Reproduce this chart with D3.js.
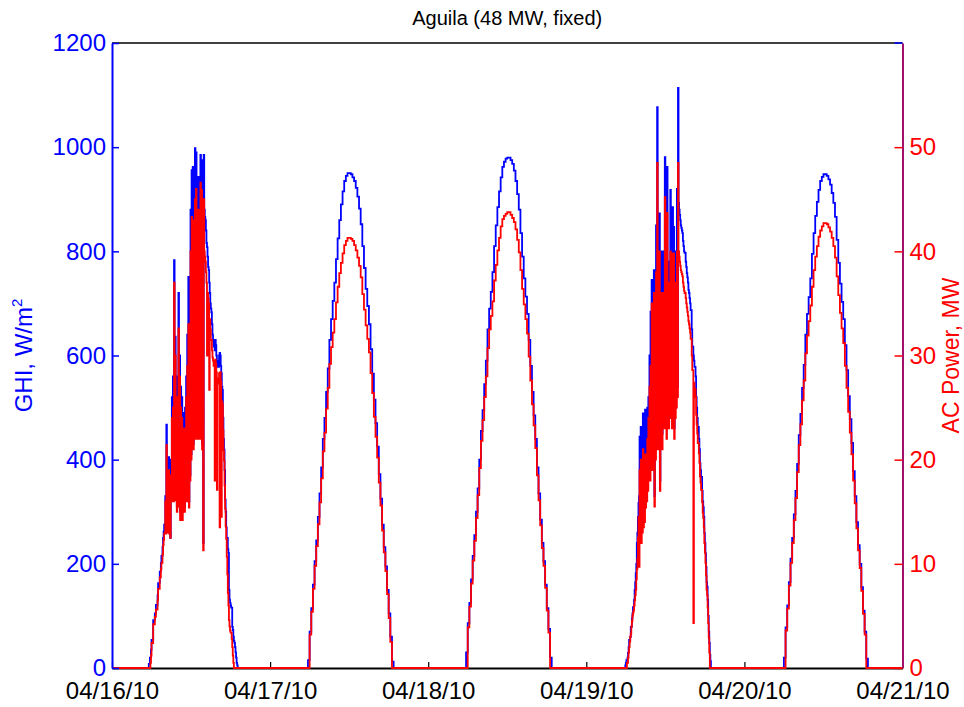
<!DOCTYPE html>
<html>
<head>
<meta charset="utf-8">
<script src="https://cdn.jsdelivr.net/npm/d3@7"></script>
<style>
  body { margin: 0; background: #fff; }
  svg { display: block; }
  text { font-family: "Liberation Sans", Arial, Helvetica, sans-serif; }
</style>
</head>
<body>
<svg id="chart" width="964" height="707"></svg>
<script>
// ---- tick labels ----
const dateTicks = ["04/16/10", "04/17/10", "04/18/10", "04/19/10", "04/20/10", "04/21/10"];
const ghiTicks = [0, 200, 400, 600, 800, 1000, 1200];
const powerTicks = [0, 10, 20, 30, 40, 50];

// ---- 04/16: 5-minute samples from 05:30 ----
const ghi16 = [
  0, 8, 8, 20, 20, 35,
  54, 54, 54, 92, 92, 92, 105, 105, 121, 121, 121, 140,
  163, 163, 163, 185, 185, 202, 215, 215, 232, 250, 262, 275,
  265, 330, 260, 467, 265, 340, 280, 405, 260, 380, 250, 400,
  330, 520, 350, 560, 330, 783, 330, 636, 350, 520, 310, 560,
  330, 720, 320, 600, 300, 540, 310, 520, 300, 470, 310, 490,
  310, 500, 330, 560, 350, 640, 330, 751, 320, 640, 370, 880,
  410, 956, 450, 962, 430, 880, 490, 998, 450, 990, 470, 940,
  450, 943, 510, 900, 450, 985, 490, 975, 430, 930, 240, 985,
  880, 866, 860, 840, 816, 808, 790, 770, 764, 740, 720, 700,
  690, 683, 660, 640, 630, 617, 620, 610, 630, 620, 600, 578,
  590, 580, 578, 600, 605, 600, 580, 566, 540, 534, 480, 440,
  419, 380, 323, 300, 270, 250, 250, 228, 221, 150, 131, 125,
  120, 116, 116, 79, 73, 60, 52, 48, 40, 30, 20, 10,
  5, 0, 0, 0
];
const ac16 = [
  0, 0, 0, 0, 0.5, 1.2,
  2.4, 2.4, 2.4, 4.2, 4.2, 4.2, 4.9, 4.9, 5.6, 5.6, 5.6, 6.5,
  7.6, 7.6, 7.6, 8.7, 8.7, 9.5, 10.1, 10.1, 10.9, 11.8, 12.3, 12.9,
  13.0, 16.0, 12.9, 21.4, 13.0, 16.0, 13.5, 19.0, 12.9, 18.0, 12.5, 18.5,
  16.0, 24.0, 17.0, 25.0, 16.0, 37.0, 16.1, 30.0, 17.0, 24.0, 15.0, 26.0,
  16.0, 32.6, 15.5, 28.0, 14.2, 25.0, 15.0, 24.0, 14.2, 21.5, 15.0, 23.0,
  15.0, 23.0, 16.0, 26.0, 17.0, 29.0, 16.0, 33.0, 15.4, 30.0, 18.0, 40.0,
  20.0, 43.3, 22.0, 43.0, 21.0, 40.0, 24.0, 45.0, 22.0, 46.0, 23.0, 43.0,
  22.0, 44.0, 25.0, 41.0, 22.0, 46.6, 24.0, 45.9, 21.0, 42.0, 11.3, 45.0,
  40.0, 39.5, 39.0, 38.0, 37.0, 30.0, 36.0, 35.5, 35.0, 26.7, 33.5, 32.5,
  31.5, 31.5, 30.5, 29.8, 29.5, 29.0, 29.2, 18.0, 29.6, 29.2, 28.4, 17.1,
  27.8, 27.4, 27.3, 28.3, 13.5, 28.4, 27.5, 14.5, 25.6, 25.3, 22.8, 20.9,
  19.9, 17.5, 15.3, 13.6, 12.4, 10.7, 9.0, 7.2, 6.0, 4.6, 4.0, 3.6,
  3.4, 3.4, 2.8, 2.0, 1.2, 0.5, 0, 0, 0, 0, 0, 0,
  0, 0, 0, 0
];

// ---- 04/17: 15-minute samples from 05:30 ----
const ghi17 = [
  0, 15, 70, 115, 160, 205, 245, 290, 335, 385,
  440, 480, 530, 575, 630, 670, 705, 740, 785, 825,
  860, 890, 915, 935, 945, 950, 950, 948, 942, 935,
  922, 905, 882, 852, 810, 768, 728, 695, 660, 612,
  565, 515, 470, 425, 372, 325, 275, 232, 195, 150,
  105, 60, 12, 0
];
const ac17 = [
  0, 0, 3.2, 5.4, 7.6, 9.8, 11.7, 13.8, 15.9, 18.2,
  20.8, 22.6, 24.9, 26.9, 29.2, 30.8, 32.2, 33.5, 35.1, 36.6,
  37.9, 38.9, 39.8, 40.6, 41.0, 41.3, 41.3, 41.2, 41.0, 40.6,
  40.1, 39.4, 38.6, 37.5, 35.9, 34.4, 32.9, 31.6, 30.3, 28.3,
  26.4, 24.1, 22.2, 20.2, 17.8, 15.6, 13.2, 11.1, 9.3, 7.1,
  4.8, 2.5, 0, 0
];

// ---- 04/18: 15-minute samples from 05:30 ----
const ghi18 = [
  0, 30, 86, 125, 170, 215, 255, 300, 345, 400,
  455, 495, 545, 590, 650, 690, 722, 760, 810, 850,
  885, 915, 942, 962, 972, 978, 980, 980, 975, 968,
  955, 935, 910, 880, 835, 790, 748, 713, 680, 630,
  580, 530, 485, 440, 385, 335, 285, 240, 205, 160,
  115, 75, 20, 0
];
const ac18 = [
  0, 0, 3.9, 5.9, 8.1, 10.3, 12.2, 14.4, 16.6, 19.2,
  21.8, 23.8, 26.0, 28.0, 30.7, 32.5, 33.8, 35.2, 37.2, 38.7,
  40.1, 41.3, 42.4, 43.1, 43.4, 43.6, 43.75, 43.75, 43.5, 43.2,
  42.8, 42.1, 41.1, 39.9, 38.2, 36.4, 34.9, 33.5, 32.1, 29.9,
  27.6, 25.3, 23.3, 21.1, 18.5, 16.1, 13.7, 11.5, 9.8, 7.7,
  5.5, 3.4, 0, 0
];

// ---- 04/19: 5-minute samples from 05:45 ----
const ghi19 = [
  0, 0, 5,
  10, 15, 15, 20, 29, 40, 54, 54, 60, 79, 79, 95,
  105, 117, 117, 131, 150, 165, 182, 200, 240, 260, 290, 317,
  330, 444, 350, 463, 350, 400, 360, 489, 370, 440, 380, 496,
  380, 470, 400, 500, 400, 520, 410, 600, 400, 684, 420, 745,
  430, 640, 420, 764, 330, 713, 430, 850, 440, 1077, 460, 828,
  450, 873, 360, 760, 460, 800, 450, 740, 480, 800, 500, 981,
  480, 808, 460, 962, 500, 760, 480, 780, 520, 918, 500, 847,
  480, 885, 520, 847, 460, 760, 500, 800, 520, 920, 540, 1114,
  893, 880, 870, 860, 850, 845, 840, 835, 820, 810, 800, 797,
  797, 780, 770, 758, 750, 740, 726, 720, 710, 700, 687, 687,
  650, 617, 617, 600, 590, 578, 578, 560, 520, 500, 480, 463,
  463, 440, 420, 393, 380, 367, 367, 340, 320, 309, 290, 259,
  240, 220, 194, 165, 156, 131, 100, 70, 48, 25, 13, 0,
  0, 0, 0, 0
];
const ac19 = [
  0, 0, 0,
  0, 0, 0.5, 0.5, 1.0, 1.5, 2.0, 2.5, 3.0, 3.3, 4.0, 4.5,
  5.0, 5.3, 5.5, 6.0, 6.5, 7.0, 7.5, 8.5, 9.5, 10.5, 12.5, 14.5,
  9.7, 19.0, 12.0, 20.0, 12.0, 17.0, 13.0, 21.0, 13.5, 19.0, 14.0, 20.5,
  15.4, 20.0, 16.0, 22.0, 17.0, 24.0, 18.0, 27.0, 18.0, 29.0, 19.0, 35.0,
  20.0, 30.0, 19.0, 36.0, 15.5, 32.0, 20.0, 38.0, 21.0, 48.5, 22.0, 37.5,
  21.0, 40.0, 17.0, 33.0, 22.0, 36.0, 21.0, 34.0, 23.0, 36.0, 24.0, 45.2,
  23.0, 37.2, 22.0, 43.7, 24.0, 35.0, 23.0, 37.0, 25.0, 40.0, 24.0, 39.8,
  23.0, 37.5, 25.0, 39.8, 22.0, 35.0, 24.0, 37.0, 25.0, 40.0, 26.0, 48.5,
  40.0, 39.5, 39.0, 38.6, 38.2, 38.0, 37.8, 37.6, 37.0, 36.6, 36.2, 36.0,
  36.0, 35.5, 35.0, 34.6, 34.2, 33.8, 33.3, 33.0, 32.6, 32.2, 31.6, 31.6,
  30.0, 28.6, 28.6, 4.3, 27.4, 26.8, 26.8, 26.0, 24.3, 23.4, 22.5, 21.6,
  21.6, 20.6, 19.7, 18.4, 17.8, 17.1, 17.1, 15.9, 14.9, 14.4, 13.5, 12.0,
  11.1, 10.1, 8.9, 7.5, 7.0, 5.8, 4.3, 2.9, 1.5, 0, 0, 0,
  0, 0, 0, 0
];

// ---- 04/20: 15-minute samples from 05:45 ----
const ghi20 = [
  0, 20, 78, 120, 165, 210, 250, 295, 340, 392,
  447, 488, 538, 582, 640, 680, 712, 748, 795, 835,
  868, 895, 918, 935, 943, 948, 948, 945, 938, 928,
  912, 893, 866, 822, 778, 738, 703, 670, 620, 572,
  522, 478, 432, 378, 330, 280, 236, 200, 155, 110,
  70, 18, 0, 0
];
const ac20 = [
  0, 0, 3.6, 5.7, 7.9, 10.1, 12.0, 14.2, 16.3, 18.8,
  21.4, 23.4, 25.7, 27.6, 30.2, 31.9, 33.3, 34.8, 36.6, 38.2,
  39.5, 40.5, 41.4, 42.0, 42.4, 42.7, 42.7, 42.6, 42.3, 41.9,
  41.3, 40.5, 39.4, 37.6, 35.8, 34.1, 32.6, 31.2, 29.0, 26.9,
  24.6, 22.6, 20.5, 18.0, 15.8, 13.4, 11.3, 9.6, 7.4, 5.2,
  3.2, 0, 0, 0
];

// day index (days after 04/16 00:00), first sample time, sample step in minutes
const daySeries = [
  { day: 0, start: "05:30", step: 5,  ghi: ghi16, ac: ac16 },
  { day: 1, start: "05:30", step: 15, ghi: ghi17, ac: ac17 },
  { day: 2, start: "05:30", step: 15, ghi: ghi18, ac: ac18 },
  { day: 3, start: "05:45", step: 5,  ghi: ghi19, ac: ac19 },
  { day: 4, start: "05:45", step: 15, ghi: ghi20, ac: ac20 }
];

// ---- layout ----
const plot = { left: 112, right: 902.5, top: 43, bottom: 668 };
const svg = d3.select("#chart");

const x = d3.scaleLinear().domain([0, 5]).range([plot.left, plot.right]);
const yG = d3.scaleLinear().domain([0, 1200]).range([plot.bottom, plot.top]);
const yP = d3.scaleLinear().domain([0, 60]).range([plot.bottom, plot.top]);

// full time series with zero readings through the night
function buildSeries(key) {
  const pts = [{ t: 0, v: 0 }];
  daySeries.forEach(d => {
    const [hh, mm] = d.start.split(":").map(Number);
    const m0 = hh * 60 + mm;
    d[key].forEach((v, i) => pts.push({ t: d.day + (m0 + i * d.step) / 1440, v }));
  });
  pts.push({ t: 5, v: 0 });
  return pts;
}
const ghiSeries = buildSeries("ghi");
const acSeries = buildSeries("ac");

const BLUE = "#0000ff", RED = "#ff0000", RIGHT_EDGE = "#a0106c";
const tickFont = 24;

// top border
svg.append("line")
  .attr("x1", plot.left).attr("x2", plot.right)
  .attr("y1", plot.top).attr("y2", plot.top)
  .attr("stroke", "#000").attr("stroke-width", 1.5);

// bottom (date) axis
const xAxis = svg.append("g")
  .attr("transform", `translate(0,${plot.bottom})`)
  .call(d3.axisBottom(x)
    .tickValues(d3.range(dateTicks.length))
    .tickFormat(i => dateTicks[i])
    .tickSizeInner(-6).tickSizeOuter(0).tickPadding(14));
xAxis.select(".domain").attr("stroke", "#000").attr("stroke-width", 2);
xAxis.selectAll(".tick line").attr("stroke", "#000").attr("stroke-width", 1.2);
xAxis.selectAll("text").attr("fill", "#000").attr("font-size", tickFont);

// data lines
const lineG = d3.line().x(d => x(d.t)).y(d => yG(d.v)).curve(d3.curveStepAfter);
const lineP = d3.line().x(d => x(d.t)).y(d => yP(d.v)).curve(d3.curveStepAfter);

svg.append("path").datum(ghiSeries)
  .attr("d", lineG).attr("fill", "none")
  .attr("stroke", BLUE).attr("stroke-width", 1.8).attr("stroke-linejoin", "miter");
svg.append("path").datum(acSeries)
  .attr("d", lineP).attr("fill", "none")
  .attr("stroke", RED).attr("stroke-width", 1.8).attr("stroke-linejoin", "miter");

// left axis: GHI
const yAxisL = svg.append("g")
  .attr("transform", `translate(${plot.left},0)`)
  .call(d3.axisLeft(yG).tickValues(ghiTicks).tickFormat(d3.format("d"))
    .tickSizeInner(-7).tickSizeOuter(0).tickPadding(6));
yAxisL.select(".domain").attr("stroke", BLUE).attr("stroke-width", 2);
yAxisL.selectAll(".tick line").attr("stroke", BLUE).attr("stroke-width", 1.5);
yAxisL.selectAll("text").attr("fill", BLUE).attr("font-size", tickFont);

// right axis: AC power
const yAxisR = svg.append("g")
  .attr("transform", `translate(${plot.right},0)`)
  .call(d3.axisRight(yP).tickValues(powerTicks).tickFormat(d3.format("d"))
    .tickSizeInner(-8).tickSizeOuter(0).tickPadding(7));
yAxisR.select(".domain").attr("stroke", RIGHT_EDGE).attr("stroke-width", 2);
yAxisR.selectAll(".tick line").attr("stroke", RED).attr("stroke-width", 1.5);
yAxisR.selectAll("text").attr("fill", RED).attr("font-size", tickFont);

// GHI top tick mirrored on the right edge
svg.append("line")
  .attr("x1", plot.right - 8).attr("x2", plot.right)
  .attr("y1", yG(1200)).attr("y2", yG(1200))
  .attr("stroke", BLUE).attr("stroke-width", 1.5);

// title
svg.append("text")
  .attr("x", (plot.left + plot.right) / 2).attr("y", 25)
  .attr("text-anchor", "middle").attr("font-size", 20).attr("fill", "#000")
  .text("Aguila (48 MW, fixed)");

// left axis title
const ttlL = svg.append("text")
  .attr("transform", `translate(32,${(plot.top + plot.bottom) / 2}) rotate(-90)`)
  .attr("text-anchor", "middle").attr("font-size", 24).attr("fill", BLUE);
ttlL.append("tspan").text("GHI, W/m");
ttlL.append("tspan").attr("font-size", 15).attr("dy", -10).text("2");

// right axis title
svg.append("text")
  .attr("transform", `translate(959,${(plot.top + plot.bottom) / 2}) rotate(-90)`)
  .attr("text-anchor", "middle").attr("font-size", 23).attr("fill", RED)
  .text("AC Power, MW");
</script>
</body>
</html>
